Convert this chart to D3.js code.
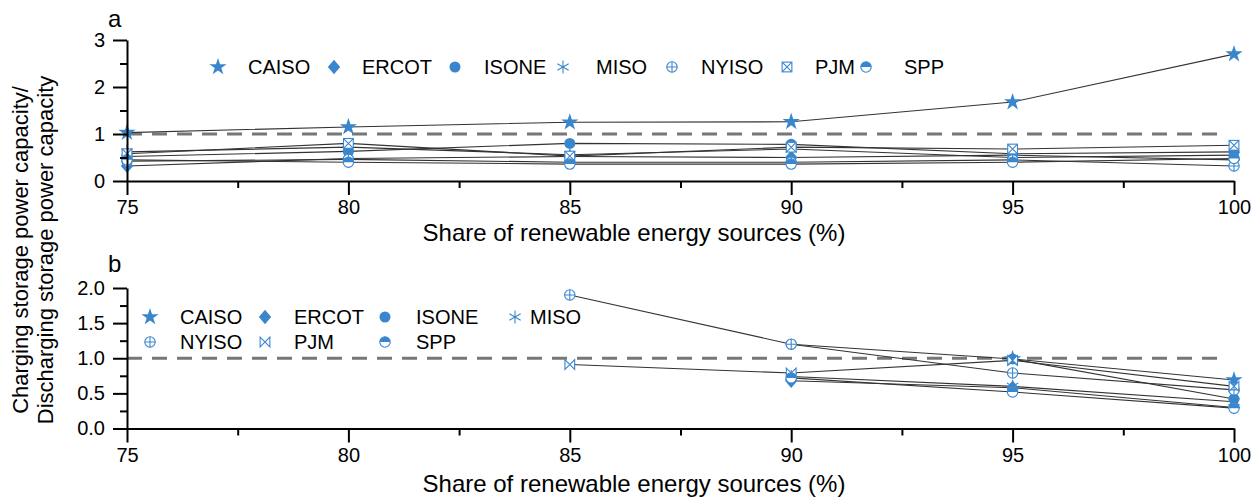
<!DOCTYPE html>
<html>
<head>
<meta charset="utf-8">
<script src="https://cdn.jsdelivr.net/npm/d3@7"></script>
<style>
  html, body { margin: 0; padding: 0; background: #fff; }
  svg { display: block; }
  text { font-family: "Liberation Sans", Arial, sans-serif; fill: #000; }
</style>
</head>
<body>
<svg id="chart" width="1254" height="498"></svg>
<script>
// ---- data ----
const shares = [75, 80, 85, 90, 95, 100];
const regions = ["CAISO", "ERCOT", "ISONE", "MISO", "NYISO", "PJM", "SPP"];

// panel a: charging / discharging power capacity ratio
const aCAISO = [1.03, 1.15, 1.25, 1.26, 1.68, 2.70];
const aERCOT = [0.32, 0.48, 0.52, 0.50, 0.55, 0.45];
const aISONE = [0.52, 0.63, 0.80, 0.78, 0.58, 0.62];
const aMISO  = [0.62, 0.72, 0.56, 0.68, 0.50, 0.55];
const aNYISO = [0.42, 0.46, 0.40, 0.40, 0.45, 0.32];
const aPJM   = [0.58, 0.80, 0.53, 0.72, 0.68, 0.76];
const aSPP   = [0.45, 0.40, 0.36, 0.36, 0.40, 0.48];

// panel b: same ratio, second scenario (null = no storage built)
const bCAISO = [null, null, null, null, 0.99, 0.69];
const bERCOT = [null, null, null, 0.68, 0.58, 0.30];
const bISONE = [null, null, null, 1.20, 0.99, 0.42];
const bMISO  = [null, null, null, 0.74, 0.60, 0.38];
const bNYISO = [null, null, 1.90, 1.20, 0.79, 0.55];
const bPJM   = [null, null, 0.91, 0.79, 0.97, 0.60];
const bSPP   = [null, null, null, 0.72, 0.52, 0.29];

const aTicks = [0, 1, 2, 3];
const aMinor = [0.5, 1.5, 2.5];
const bTicks = [0, 0.5, 1.0, 1.5, 2.0];
const bMinor = [0.25, 0.75, 1.25, 1.75];
const xTicks = [75, 80, 85, 90, 95, 100];
const xMinor = [77.5, 82.5, 87.5, 92.5, 97.5];

const xTitle = "Share of renewable energy sources (%)";
const yTitle1 = "Charging storage power capacity/";
const yTitle2 = "Discharging storage power capacity";

const seriesA = [aCAISO, aERCOT, aISONE, aMISO, aNYISO, aPJM, aSPP];
const seriesB = [bCAISO, bERCOT, bISONE, bMISO, bNYISO, bPJM, bSPP];

// ---- styling ----
const BLUE = "#3a86cd";
const svg = d3.select("#chart");

// marker drawing: draws a symbol of a given kind centered at (0,0) into group g
function drawMarker(g, kind, r) {
  const sw = 1.1;
  switch (kind) {
    case "star":
      g.append("path").attr("d", d3.symbol(d3.symbolStar, r * r * 2.2)())
        .attr("fill", BLUE);
      break;
    case "diamond":
      g.append("path").attr("d", `M0,${-r * 1.1}L${r * 0.95},0L0,${r * 1.1}L${-r * 0.95},0Z`)
        .attr("fill", BLUE);
      break;
    case "circle":
      g.append("circle").attr("r", r * 0.85).attr("fill", BLUE);
      break;
    case "asterisk": {
      const p = d3.path();
      for (let k = 0; k < 3; k++) {
        const ang = Math.PI / 2 + k * Math.PI / 3;
        p.moveTo(Math.cos(ang) * r, Math.sin(ang) * r);
        p.lineTo(-Math.cos(ang) * r, -Math.sin(ang) * r);
      }
      g.append("path").attr("d", p.toString()).attr("stroke", BLUE)
        .attr("stroke-width", sw).attr("fill", "none");
      break;
    }
    case "oplus":
      g.append("circle").attr("r", r * 0.8).attr("fill", "#fff")
        .attr("stroke", BLUE).attr("stroke-width", sw);
      g.append("path").attr("d", `M${-r * 0.8},0H${r * 0.8}M0,${-r * 0.8}V${r * 0.8}`)
        .attr("stroke", BLUE).attr("stroke-width", sw);
      break;
    case "boxx": {
      const s = r * 0.75;
      g.append("rect").attr("x", -s).attr("y", -s).attr("width", 2 * s).attr("height", 2 * s)
        .attr("fill", "#fff").attr("stroke", BLUE).attr("stroke-width", sw);
      g.append("path").attr("d", `M${-s},${-s}L${s},${s}M${s},${-s}L${-s},${s}`)
        .attr("stroke", BLUE).attr("stroke-width", sw);
      break;
    }
    case "bowtie": {
      const s = r * 0.75;
      g.append("path").attr("d", `M${-s},${-s}L${s},${s}L${s},${-s}L${-s},${s}Z`)
        .attr("fill", "#fff").attr("stroke", BLUE).attr("stroke-width", sw)
        .attr("stroke-linejoin", "miter");
      break;
    }
    case "halfcircle":
      g.append("circle").attr("r", r * 0.8).attr("fill", "#fff")
        .attr("stroke", BLUE).attr("stroke-width", sw);
      g.append("path").attr("d", d3.arc()({ innerRadius: 0, outerRadius: r * 0.8,
        startAngle: -Math.PI / 2, endAngle: Math.PI / 2 }))
        .attr("fill", BLUE);
      break;
  }
}

const markersA = ["star", "diamond", "circle", "asterisk", "oplus", "boxx", "halfcircle"];
const markersB = ["star", "diamond", "circle", "asterisk", "oplus", "bowtie", "halfcircle"];

// ---- panel builder ----
function panel(opts) {
  const { top, bottom, yMax, ticks, minor, fmt, series, markers } = opts;
  const x = d3.scaleLinear().domain([75, 100]).range([127, 1234]);
  const y = d3.scaleLinear().domain([0, yMax]).range([bottom, top]);
  const g = svg.append("g");

  // reference line at ratio = 1
  g.append("line")
    .attr("x1", x(75)).attr("x2", x(99.7))
    .attr("y1", y(1)).attr("y2", y(1))
    .attr("stroke", "#777").attr("stroke-width", 3)
    .attr("stroke-dasharray", "15,10");

  // series lines
  const line = d3.line()
    .defined(d => d[1] != null)
    .x(d => x(d[0])).y(d => y(d[1]));
  series.forEach(vals => {
    g.append("path")
      .datum(shares.map((s, i) => [s, vals[i]]))
      .attr("d", line)
      .attr("fill", "none")
      .attr("stroke", "#333")
      .attr("stroke-width", 1.1);
  });

  // series markers
  series.forEach((vals, si) => {
    shares.forEach((s, i) => {
      if (vals[i] == null) return;
      const m = g.append("g").attr("transform", `translate(${x(s)},${y(vals[i])})`);
      drawMarker(m, markers[si], 6.5);
    });
  });

  // axes
  const axStyle = sel => {
    sel.selectAll("path.domain").attr("stroke", "#000").attr("stroke-width", 2);
    sel.selectAll(".tick line").attr("stroke", "#000").attr("stroke-width", 2);
    sel.selectAll("text").style("font-size", "20px")
      .style("font-family", '"Liberation Sans", Arial, sans-serif').attr("fill", "#000");
  };

  g.append("g").attr("transform", `translate(0,${bottom})`)
    .call(d3.axisBottom(x).tickValues(xMinor).tickSize(7).tickFormat(""))
    .call(s => s.select(".domain").remove())
    .call(axStyle);
  g.append("g").attr("transform", `translate(0,${bottom})`)
    .call(d3.axisBottom(x).tickValues(xTicks).tickSize(14).tickSizeOuter(0).tickPadding(5))
    .call(axStyle);

  g.append("g").attr("transform", `translate(${x(75)},0)`)
    .call(d3.axisLeft(y).tickValues(minor).tickSize(7).tickFormat(""))
    .call(s => s.select(".domain").remove())
    .call(axStyle);
  g.append("g").attr("transform", `translate(${x(75)},0)`)
    .call(d3.axisLeft(y).tickValues(ticks).tickSize(14).tickSizeOuter(0).tickPadding(8).tickFormat(fmt))
    .call(axStyle);

  return { x, y, g };
}

const pa = panel({ top: 40, bottom: 181, yMax: 3, ticks: aTicks, minor: aMinor,
  fmt: d3.format("d"), series: seriesA, markers: markersA });
const pb = panel({ top: 288, bottom: 428.5, yMax: 2, ticks: bTicks, minor: bMinor,
  fmt: d3.format(".1f"), series: seriesB, markers: markersB });

// x-axis titles
svg.append("text").attr("x", 634).attr("y", 241).attr("text-anchor", "middle")
  .style("font-size", "24px").text(xTitle);
svg.append("text").attr("x", 634).attr("y", 492).attr("text-anchor", "middle")
  .style("font-size", "24px").text(xTitle);

// shared y-axis title
svg.append("text").attr("transform", "translate(28,250) rotate(-90)")
  .attr("text-anchor", "middle").style("font-size", "22px").text(yTitle1);
svg.append("text").attr("transform", "translate(53,250) rotate(-90)")
  .attr("text-anchor", "middle").style("font-size", "22px").text(yTitle2);

// panel labels
svg.append("text").attr("x", 108).attr("y", 27).style("font-size", "24px").text("a");
svg.append("text").attr("x", 108).attr("y", 272).style("font-size", "24px").text("b");

// legend for panel a: one row
const legA = [218, 334, 455, 563, 672, 787, 866];
const legATxt = [248, 362, 484, 596, 701, 815, 904];
regions.forEach((r, i) => {
  const m = svg.append("g").attr("transform", `translate(${legA[i]},67)`);
  drawMarker(m, markersA[i], 6.5);
  svg.append("text").attr("x", legATxt[i]).attr("y", 74).style("font-size", "20px").text(r);
});

// legend for panel b: two rows
const legBx = [150, 265, 385, 515, 150, 265, 385];
const legBTx = [180, 294, 416, 530, 180, 294, 416];
const legBy = [317, 317, 317, 317, 342, 342, 342];
regions.forEach((r, i) => {
  const m = svg.append("g").attr("transform", `translate(${legBx[i]},${legBy[i]})`);
  drawMarker(m, markersB[i], 6.5);
  svg.append("text").attr("x", legBTx[i]).attr("y", legBy[i] + 7).style("font-size", "20px").text(r);
});
</script>
</body>
</html>
